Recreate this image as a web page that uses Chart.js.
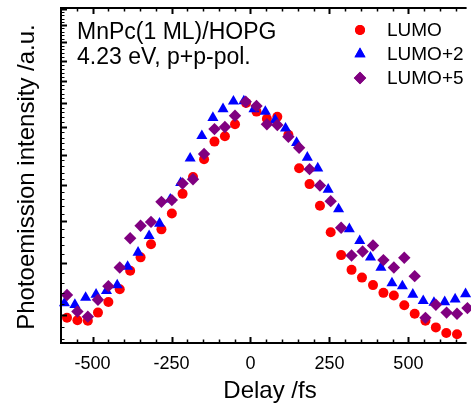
<!DOCTYPE html>
<html>
<head>
<meta charset="utf-8">
<script src="https://cdn.jsdelivr.net/npm/chart.js@4.4.0/dist/chart.umd.min.js"></script>
<style>
html, body { margin: 0; padding: 0; background: #ffffff; }
</style>
</head>
<body>
<canvas id="myChart" width="471" height="406"></canvas>
<script>
// ritardi (fs) e intensita', asse y logaritmico
var ritardi_lumo = [-581, -548, -515, -483, -450, -414, -381, -348, -315, -282, -249, -215, -182, -147, -114, -81, -49, -14, 19, 52, 85, 120, 154, 187, 220, 254, 287, 320, 353, 388, 421, 454, 487, 520, 554, 587, 620, 654];
var lumo = [3.95, 3.91, 3.90, 4.04, 4.23, 4.47, 4.84, 5.13, 5.43, 5.79, 6.20, 6.75, 7.26, 7.84, 8.46, 8.66, 9.12, 10.0, 9.63, 9.34, 9.42, 8.71, 7.54, 7.04, 6.41, 5.72, 5.18, 4.86, 4.70, 4.55, 4.40, 4.35, 4.17, 4.02, 3.90, 3.79, 3.70, 3.68];

var ritardi_lumo2 = [-589, -556, -522, -489, -456, -422, -389, -356, -321, -288, -254, -221, -191, -154, -119, -87, -54, -21, 11, 47, 78, 111, 146, 180, 213, 246, 279, 313, 346, 380, 413, 448, 481, 514, 547, 581, 615, 648, 681];
var lumo2 = [4.21, 4.18, 4.31, 4.37, 4.44, 4.55, 4.93, 5.24, 5.63, 5.94, 6.59, 7.08, 7.87, 8.67, 9.38, 9.74, 10.07, 10.08, 9.74, 9.63, 9.29, 8.96, 8.42, 7.90, 7.54, 6.88, 6.32, 5.80, 5.51, 5.13, 4.91, 4.59, 4.53, 4.37, 4.25, 4.22, 4.23, 4.28, 4.38];

var ritardi_lumo5 = [-581, -548, -515, -483, -450, -414, -381, -348, -315, -282, -249, -215, -182, -147, -114, -81, -49, -15, 19, 52, 85, 120, 154, 187, 220, 254, 287, 320, 355, 388, 421, 454, 487, 520, 554, 587, 621, 654, 687];
var lumo5 = [4.36, 4.06, 3.97, 4.27, 4.53, 4.91, 5.57, 5.88, 5.98, 6.52, 6.57, 7.06, 7.19, 8.02, 8.93, 9.01, 9.46, 10.05, 9.87, 9.12, 9.09, 8.64, 8.24, 7.51, 7.00, 6.54, 5.83, 5.17, 5.26, 5.40, 5.07, 4.91, 5.12, 4.73, 3.95, 4.18, 4.04, 4.02, 4.12];

var nomi_serie = ['LUMO', 'LUMO+2', 'LUMO+5'];
var tick_x = [-500, -250, 0, 250, 500];
var titolo_x = 'Delay /fs';
var titolo_y = 'Photoemission intensity /a.u.';
var testo_campione = ['MnPc(1 ML)/HOPG', '4.23 eV, p+p-pol.'];

var font_base = '"Liberation Sans", Arial, sans-serif';

function punti(xs, ys) {
    var out = [];
    for (var i = 0; i < xs.length; i++) {
        out.push({ x: xs[i], y: ys[i] });
    }
    return out;
}

// disegno cornice, tacche, etichette, testo e legenda
var assi = {
    id: 'assi',
    afterDatasetsDraw: function(chart) {
        var c = chart.ctx;
        var area = chart.chartArea;
        var sx = chart.scales.x;
        var sy = chart.scales.y;
        c.save();
        c.strokeStyle = '#000000';
        c.fillStyle = '#000000';

        // tacche asse x (sotto e sopra, verso l'interno)
        for (var v = -550; v <= 650; v += 50) {
            var px = Math.round(sx.getPixelForValue(v)) + 0.5;
            var maggiore = tick_x.indexOf(v) >= 0;
            var lung = maggiore ? 6 : 3.5;
            c.lineWidth = maggiore ? 2 : 1.5;
            c.beginPath();
            c.moveTo(px, area.bottom);
            c.lineTo(px, area.bottom - lung);
            c.moveTo(px, area.top);
            c.lineTo(px, area.top + lung);
            c.stroke();
        }
        // tacche asse y logaritmico
        for (var k = 18; k <= 75; k++) {
            var val = k / 5;
            var py = Math.round(sy.getPixelForValue(val)) + 0.5;
            if (py < area.top || py > area.bottom) continue;
            var magg = (k % 5 === 0);
            c.lineWidth = magg ? 2 : 1;
            c.beginPath();
            c.moveTo(area.left, py);
            c.lineTo(area.left + (magg ? 6 : 3.5), py);
            c.stroke();
        }
        // cornice
        c.lineWidth = 2;
        c.beginPath();
        c.moveTo(area.left, area.top);
        c.lineTo(area.right + 2, area.top);
        c.moveTo(area.left, area.top - 1);
        c.lineTo(area.left, area.bottom + 1);
        c.moveTo(area.left - 1, area.bottom);
        c.lineTo(area.right + 2, area.bottom);
        c.stroke();

        // etichette x
        c.font = '18px ' + font_base;
        c.textAlign = 'center';
        c.textBaseline = 'alphabetic';
        for (var i = 0; i < tick_x.length; i++) {
            c.fillText(String(tick_x[i]), sx.getPixelForValue(tick_x[i]), 369);
        }
        // titoli assi
        c.font = '24px ' + font_base;
        c.fillText(titolo_x, 270, 398);
        c.save();
        c.translate(34, 177);
        c.rotate(-Math.PI / 2);
        c.fillText(titolo_y, 0, 0);
        c.restore();

        // testo del campione
        c.font = '23px ' + font_base;
        c.textAlign = 'left';
        c.fillText(testo_campione[0], 77, 39);
        c.fillText(testo_campione[1], 77, 64);

        // legenda
        c.font = '19px ' + font_base;
        c.textBaseline = 'middle';
        var ds = chart.data.datasets;
        var righe = [30, 54, 78];
        for (var j = 0; j < ds.length; j++) {
            c.fillStyle = ds[j].backgroundColor;
            Chart.helpers.drawPoint(c, {
                pointStyle: ds[j].pointStyle,
                radius: ds[j].pointRadius,
                borderWidth: 0,
                rotation: 0
            }, 360, righe[j]);
            c.fill();
            c.fillStyle = '#000000';
            c.fillText(nomi_serie[j], 387, righe[j] + 1);
        }
        c.restore();
    }
};

var ctx = document.getElementById('myChart');
var myChart = new Chart(ctx, {
    type: 'scatter',
    data: {
        datasets: [{
            label: nomi_serie[0],
            data: punti(ritardi_lumo, lumo),
            pointStyle: 'circle',
            pointRadius: 5,
            backgroundColor: '#ff0000',
            borderColor: '#ff0000',
            borderWidth: 0,
            order: 3,
            clip: false
        }, {
            label: nomi_serie[1],
            data: punti(ritardi_lumo2, lumo2),
            pointStyle: 'triangle',
            pointRadius: 6.4,
            backgroundColor: '#0000ff',
            borderColor: '#0000ff',
            borderWidth: 0,
            order: 2,
            clip: false
        }, {
            label: nomi_serie[2],
            data: punti(ritardi_lumo5, lumo5),
            pointStyle: 'rectRot',
            pointRadius: 6.2,
            backgroundColor: '#800080',
            borderColor: '#800080',
            borderWidth: 0,
            order: 1,
            clip: false
        }]
    },
    options: {
        responsive: false,
        animation: false,
        devicePixelRatio: 1,
        layout: { padding: { left: 61, right: 0, top: 8, bottom: 63 } },
        scales: {
            x: { type: 'linear', display: false, min: -600, max: 678 },
            y: { type: 'logarithmic', display: false, min: 3.543, max: 15.07 }
        },
        plugins: {
            legend: { display: false },
            tooltip: { enabled: false }
        }
    },
    plugins: [assi]
});
</script>
</body>
</html>
